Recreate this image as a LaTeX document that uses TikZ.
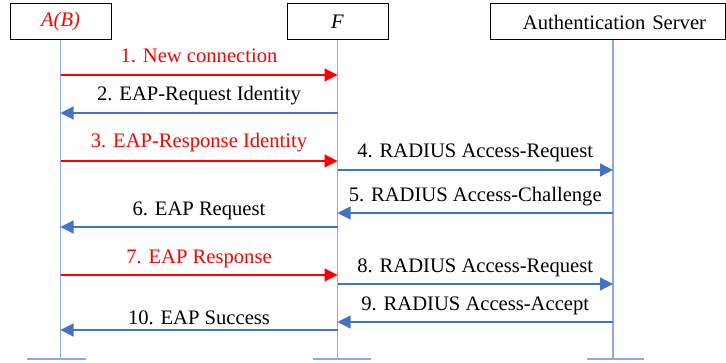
\documentclass[tikz,border=0pt]{standalone}
\usepackage{fontspec}
\setmainfont{Liberation Serif}
\usetikzlibrary{positioning,arrows.meta}
\definecolor{cmsg}{HTML}{4472C4}
\definecolor{cline}{HTML}{8FAADC}
\definecolor{cnew}{HTML}{FF0000}

\begin{document}
\begin{tikzpicture}[x=0.5pt,y=-0.5pt,font=\fontsize{10.3}{12}\selectfont,
  party/.style={draw=black,line width=0.5pt,minimum height=18pt,inner sep=0pt},
  life/.style={cline,line width=0.6pt},
  msg/.style={draw=#1,line width=0.6pt,-{Triangle[length=6.5pt,width=6.5pt]}}]
\useasboundingbox (0,0) rectangle (726,363);
% parties
\node[party,minimum width=50.5pt] (ab) at (60.5,22) {\textcolor{cnew}{\textit{A(B)}}};
\node[party,minimum width=50.5pt] (f) at (337.5,22) {\textit{F}};
\node[party,minimum width=117.5pt,text width=98.5pt,align=right] (as) at (607.5,22) {Authentication Server};
% lifelines
\coordinate (la) at (ab.south);
\coordinate (lf) at (f.south);
\coordinate (ls) at ([xshift=2.75pt]as.south);
\coordinate (gnd) at (0,359);
\foreach \l/\lo/\hi in {la/-17/12.5, lf/-12.5/16.5, ls/-13/15.5}{
  \draw[life] (\l) -- (\l |- gnd);
  \draw[life] ([xshift=\lo pt]\l |- gnd) -- ([xshift=\hi pt]\l |- gnd);
}
% messages
\foreach \y/\src/\dst/\col/\tcol/\lift/\txt in {
  75/la/lf/cnew/cnew/6.0/{1. New connection},
  113/lf/la/cmsg/black/6.3/{2. EAP-Request Identity},
  161/la/lf/cnew/cnew/6.5/{3. EAP-Response Identity},
  170/lf/ls/cmsg/black/6.5/{4. RADIUS Access-Request},
  213/ls/lf/cmsg/black/6.0/{5. RADIUS Access-Challenge},
  227/lf/la/cmsg/black/6.0/{6. EAP Request},
  275/la/lf/cnew/cnew/6.0/{7. EAP Response},
  284/lf/ls/cmsg/black/6.0/{8. RADIUS Access-Request},
  322/ls/lf/cmsg/black/6.0/{9. RADIUS Access-Accept},
  330/lf/la/cmsg/black/2.8/{10. EAP Success}}{
  \draw[msg=\col] (\src |- 0,\y) -- node[anchor=base,yshift=\lift pt,text=\tcol] {\txt} (\dst |- 0,\y);
}
\end{tikzpicture}
\end{document}
